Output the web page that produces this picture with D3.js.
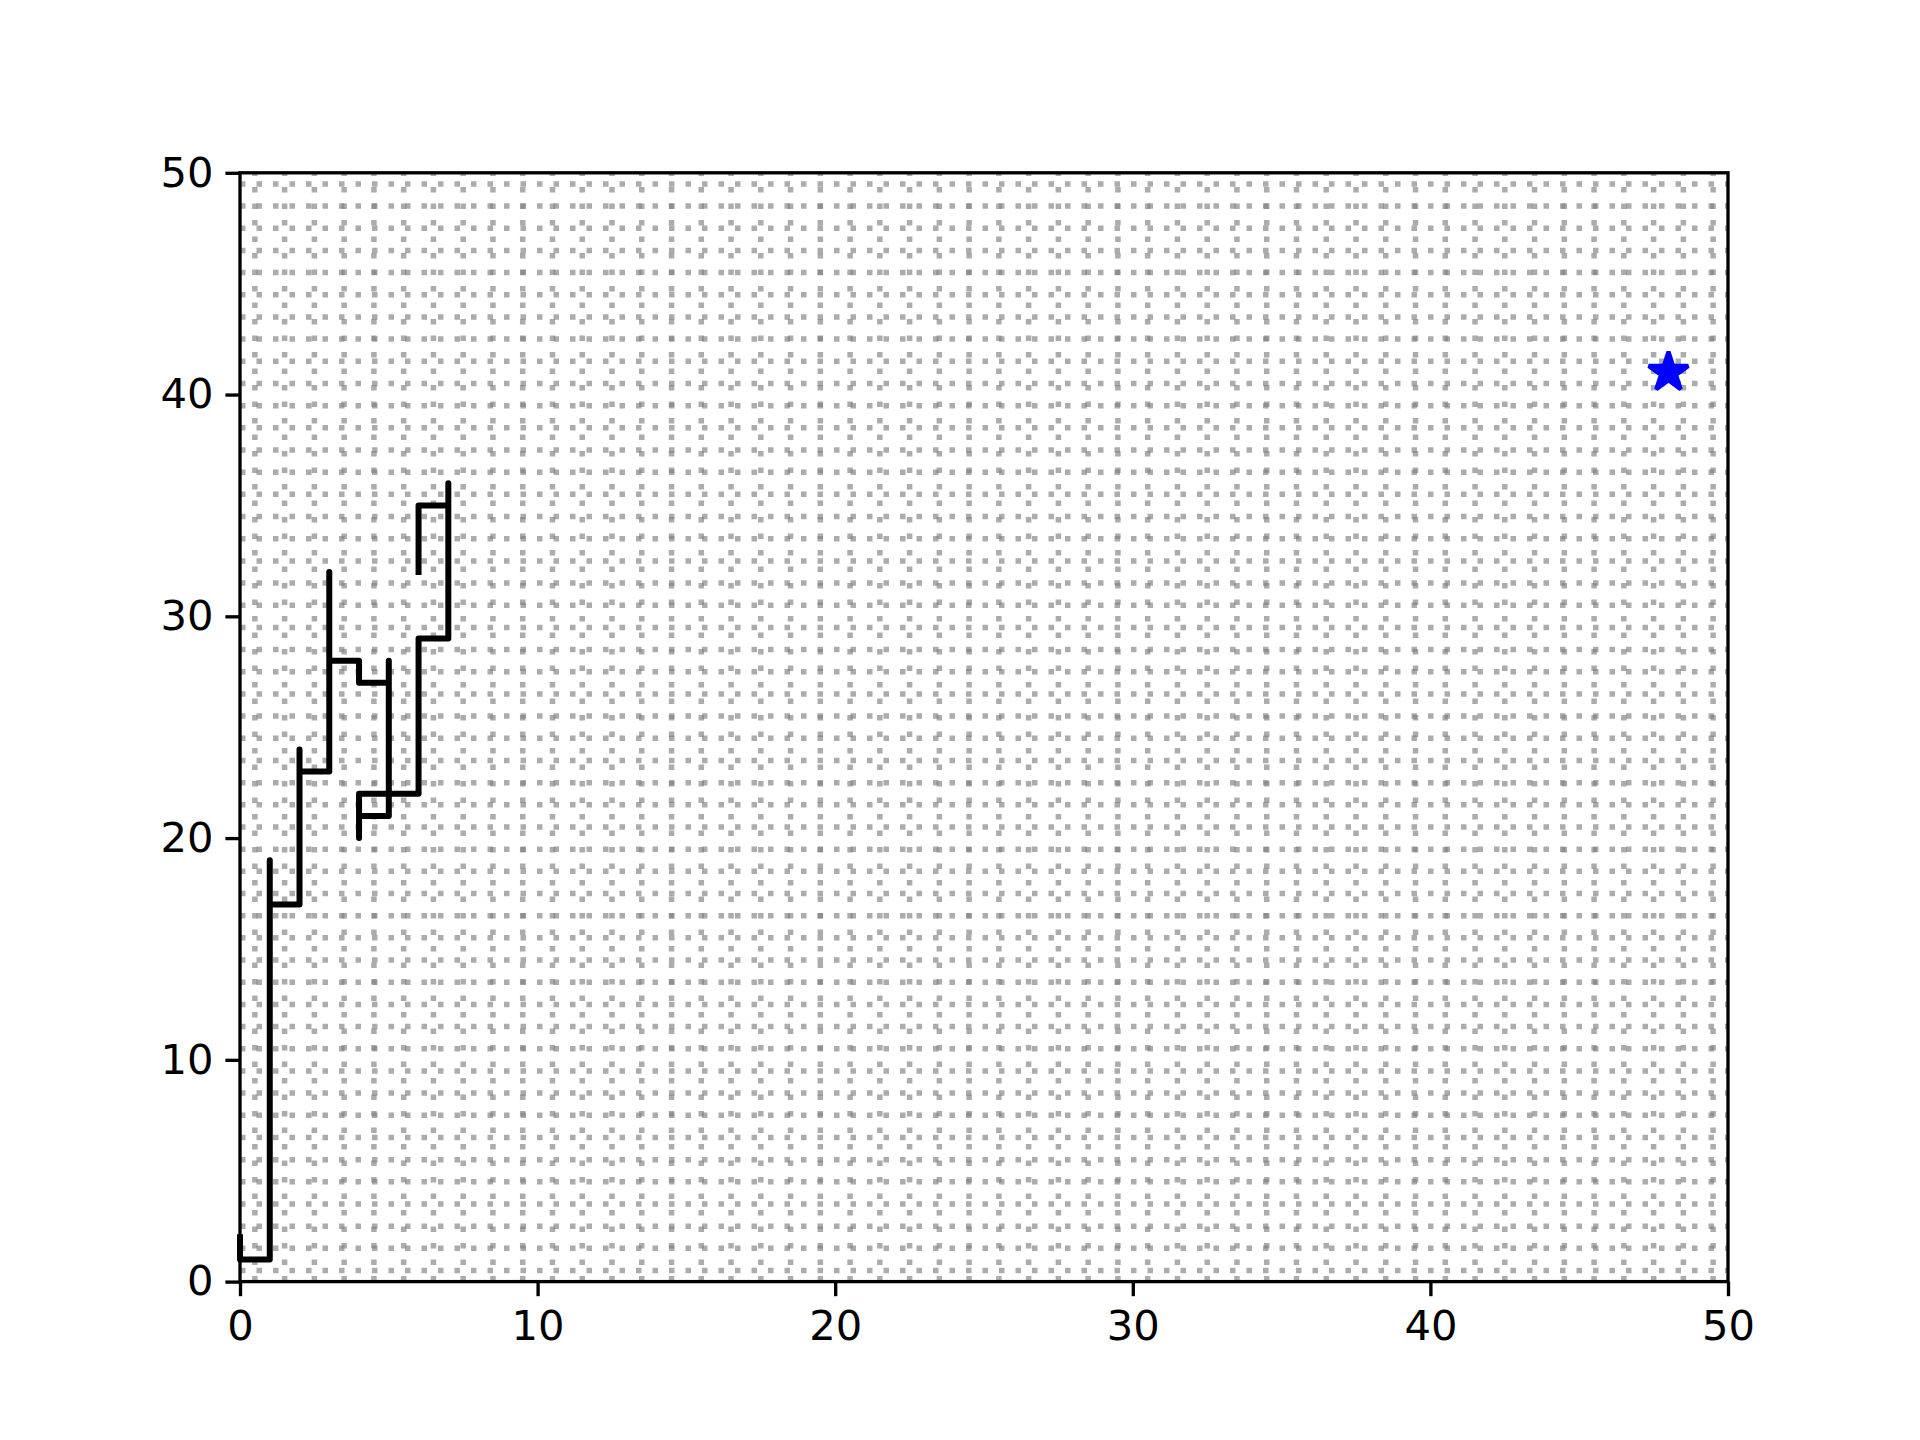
<!DOCTYPE html>
<html><head><meta charset="utf-8">
<script src="https://cdn.jsdelivr.net/npm/d3@7"></script>
<style>html,body{margin:0;padding:0;background:#fff;}</style>
</head><body>
<script>
// Data
const pathX = [0,0,1,1,1,2,2,2,3,3,3,4,4,5,5,5,4,4,4,6,6,7,7,7,6,6];
const pathY = [2,1,1,19,17,17,24,23,23,32,28,28,27,27,28,21,21,20,22,22,29,29,36,35,35,32];
const goalX = [48];
const goalY = [41];
const gridPos = d3.range(0.5, 50, 1);
const tickVals = [0,10,20,30,40,50];

(function(){
const W = 1920, H = 1440;
const mLeft = 240, mRight = 1728, mTop = 172.8, mBottom = 1281.6;
const svg = d3.select("body").append("svg").attr("width", W).attr("height", H)
  .style("font-family", "'DejaVu Sans', sans-serif");

const x = d3.scaleLinear().domain([0,50]).range([mLeft,mRight]);
const y = d3.scaleLinear().domain([0,50]).range([mBottom,mTop]);

const gGrid = svg.append("g");
gGrid.selectAll("line.h").data(gridPos).join("line").attr("class","h")
  .attr("x1", x(0)).attr("x2", x(50)).attr("y1", d=>y(d)).attr("y2", d=>y(d))
  .attr("stroke", "#808080").attr("stroke-opacity", 0.65).attr("stroke-width", 5.5)
  .attr("stroke-dasharray", "5.5 11");
gGrid.selectAll("line.v").data(gridPos).join("line").attr("class","v")
  .attr("x1", d=>x(d)).attr("x2", d=>x(d)).attr("y1", y(0)).attr("y2", y(50))
  .attr("stroke", "#808080").attr("stroke-opacity", 0.65).attr("stroke-width", 5.5)
  .attr("stroke-dasharray", "5.5 11");

const pts = pathX.map((d,i)=>[d, pathY[i]]);
svg.append("path").datum(pts)
  .attr("d", d3.line().x(d=>x(d[0])).y(d=>y(d[1])))
  .attr("fill","none").attr("stroke","#000").attr("stroke-width",6)
  .attr("stroke-linecap","square").attr("stroke-linejoin","round");

const xAxis = d3.axisBottom(x).tickValues(tickVals).tickSizeInner(14.6).tickSizeOuter(0).tickPadding(12);
const yAxis = d3.axisLeft(y).tickValues(tickVals).tickSizeInner(14.6).tickSizeOuter(0).tickPadding(12);
const gx = svg.append("g").attr("transform", `translate(0,${mBottom})`).call(xAxis);
const gy = svg.append("g").attr("transform", `translate(${mLeft},0)`).call(yAxis);
[gx, gy].forEach(g => {
  g.select(".domain").remove();
  g.selectAll(".tick line").attr("stroke","#000").attr("stroke-width",3.33);
  g.selectAll(".tick text").attr("fill","#000").style("font-size","41.67px").style("font-family","'DejaVu Sans', sans-serif");
});
gx.selectAll(".tick text").attr("dy","0.76em");

svg.append("rect").attr("x", mLeft).attr("y", mTop).attr("width", mRight-mLeft).attr("height", mBottom-mTop)
  .attr("fill","none").attr("stroke","#000").attr("stroke-width",3.33).attr("stroke-linejoin","miter");

const starSize = Math.pow(20.8,2)/0.8908130915292852;
svg.selectAll("path.star").data(goalX.map((d,i)=>[d, goalY[i]])).join("path").attr("class","star")
  .attr("transform", d=>`translate(${x(d[0])},${y(d[1])})`)
  .attr("d", d3.symbol().type(d3.symbolStar).size(starSize)())
  .attr("fill","#0000ff").attr("stroke","#0000ff").attr("stroke-width",4.17).attr("stroke-linejoin","bevel");
})();
</script>
</body></html>
